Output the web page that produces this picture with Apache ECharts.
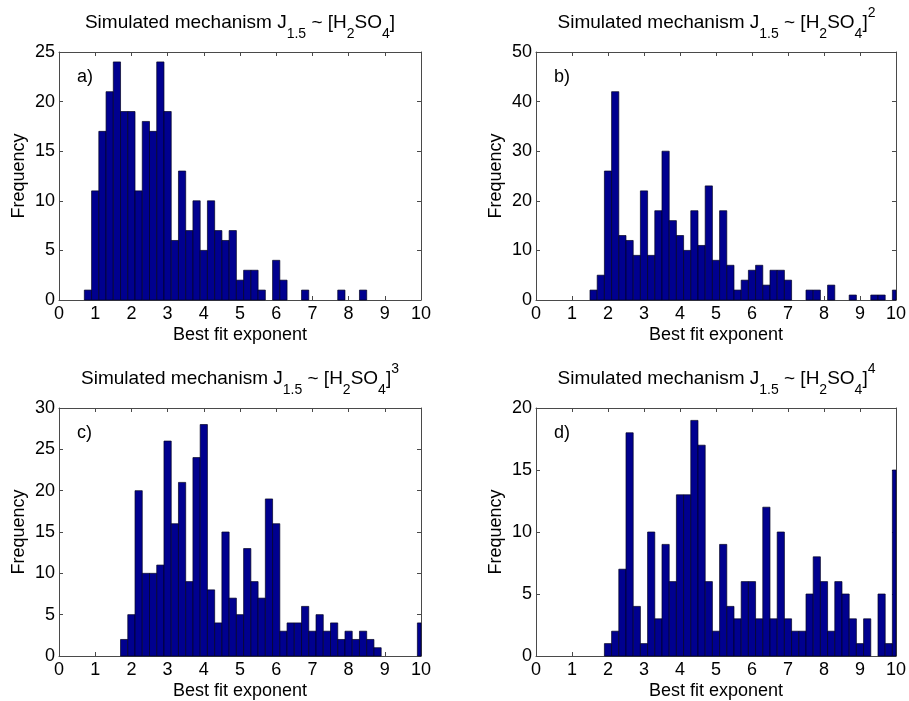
<!DOCTYPE html>
<html><head><meta charset="utf-8">
<script src="https://cdn.jsdelivr.net/npm/echarts@6/dist/echarts.min.js"></script>
<style>html,body{margin:0;padding:0;background:#fff}#c{width:909px;height:701px}</style>
</head><body><div id="c"></div>
<script>
// ---- data ----
const binCenters = [0,0.2,0.4,0.6,0.8,1.0,1.2,1.4,1.6,1.8,2.0,2.2,2.4,2.6,2.8,3.0,3.2,3.4,3.6,3.8,4.0,4.2,4.4,4.6,4.8,5.0,5.2,5.4,5.6,5.8,6.0,6.2,6.4,6.6,6.8,7.0,7.2,7.4,7.6,7.8,8.0,8.2,8.4,8.6,8.8,9.0,9.2,9.4,9.6,9.8,10.0];
const binWidth = 0.2;
const countsA = [0,0,0,0,1,11,17,21,24,19,19,11,18,17,24,19,6,13,7,10,5,10,7,6,7,2,3,3,1,0,4,2,0,0,1,0,0,0,0,1,0,0,1,0,0,0,0,0,0,0,0];
const countsB = [0,0,0,0,0,0,0,0,2,5,26,42,13,12,9,22,9,18,30,16,13,10,18,11,23,8,18,7,2,4,6,7,3,6,6,4,0,0,2,2,0,3,0,0,1,0,0,1,1,0,2];
const countsC = [0,0,0,0,0,0,0,0,0,2,5,20,10,10,11,26,16,21,9,24,28,8,4,15,7,5,13,9,7,19,16,3,4,4,6,3,5,3,4,2,3,2,3,2,1,0,0,0,0,0,4];
const countsD = [0,0,0,0,0,0,0,0,0,0,1,2,7,18,4,1,10,3,9,6,13,13,19,17,6,2,9,4,3,6,6,3,12,3,10,3,2,2,5,8,6,2,6,5,3,1,3,0,5,1,15];
const yMaxes = [25, 50, 30, 20];
const yIntervals = [5, 10, 5, 5];
const xMin = 0, xMax = 10, xInterval = 1;
const panelLabels = ['a)', 'b)', 'c)', 'd)'];
const titleExponents = ['', '2', '3', '4'];
const xAxisTitle = 'Best fit exponent';
const yAxisTitle = 'Frequency';
const labelPos = [0.5, 0.9]; // x value, fraction of y max

// ---- layout / style ----
const FONT = "'Liberation Sans', Arial, sans-serif";
const AXC = '#4a4a4a';
const BAR = '#00008F';
const grids = [
  {left: 59, top: 52, width: 362, height: 248},
  {left: 536, top: 52, width: 361, height: 248},
  {left: 59, top: 408, width: 362, height: 249},
  {left: 536, top: 408, width: 361, height: 249}
];
const allCounts = [countsA, countsB, countsC, countsD];

const chart = echarts.init(document.getElementById('c'), null, {renderer: 'canvas'});
const xAxes = [], yAxes = [], series = [];
grids.forEach((g, i) => {
  const line = {show: true, onZero: false, lineStyle: {color: AXC, width: 1}};
  const tick = {show: true, inside: true, length: 4, lineStyle: {color: AXC, width: 1}};
  xAxes.push({
    type: 'value', gridIndex: i, position: 'bottom', min: xMin, max: xMax, interval: xInterval,
    axisLine: line, axisTick: tick, splitLine: {show: false},
    axisLabel: {fontSize: 18, color: '#000', fontFamily: FONT, margin: 5},
    name: xAxisTitle, nameLocation: 'middle', nameGap: 26,
    nameTextStyle: {fontSize: 18, color: '#000', fontFamily: FONT}
  });
  xAxes.push({
    type: 'value', gridIndex: i, position: 'top', min: xMin, max: xMax, interval: xInterval,
    axisLine: line, axisTick: tick, splitLine: {show: false}, axisLabel: {show: false}
  });
  yAxes.push({
    type: 'value', gridIndex: i, position: 'left', min: 0, max: yMaxes[i], interval: yIntervals[i],
    axisLine: line, axisTick: tick, splitLine: {show: false},
    axisLabel: {fontSize: 18, color: '#000', fontFamily: FONT, margin: 4},
    name: yAxisTitle, nameLocation: 'middle', nameGap: 31, nameRotate: 90,
    nameTextStyle: {fontSize: 18, color: '#000', fontFamily: FONT}
  });
  yAxes.push({
    type: 'value', gridIndex: i, position: 'right', min: 0, max: yMaxes[i], interval: yIntervals[i],
    axisLine: line, axisTick: tick, splitLine: {show: false}, axisLabel: {show: false}
  });
  const data = binCenters.map((c, k) => [c, allCounts[i][k]]).filter(d => d[1] > 0);
  series.push({
    type: 'custom', xAxisIndex: 2 * i, yAxisIndex: 2 * i, data: data,
    encode: {x: 0, y: 1},
    renderItem: function (params, api) {
      const c = api.value(0), n = api.value(1);
      const p0 = api.coord([c - binWidth / 2, 0]);
      const p1 = api.coord([c + binWidth / 2, n]);
      const cs = params.coordSys;
      const x0 = Math.max(p0[0], cs.x), x1 = Math.min(p1[0], cs.x + cs.width);
      if (x1 <= x0) return null;
      return {
        type: 'rect',
        shape: {x: x0, y: p1[1], width: x1 - x0, height: p0[1] - p1[1]},
        style: {fill: BAR, stroke: '#000022', lineWidth: 0.7}
      };
    }
  });
});

chart.setOption({
  animation: false,
  backgroundColor: '#fff',
  grid: grids.map(g => Object.assign({containLabel: false}, g)),
  xAxis: xAxes, yAxis: yAxes, series: series
});

const graphics = [];
grids.forEach((g, i) => {
  let t = '{m|Simulated mechanism J}{s|1.5}{m| ~ [H}{s|2}{m|SO}{s|4}{m|]}';
  if (titleExponents[i]) t += '{p|' + titleExponents[i] + '}';
  graphics.push({
    type: 'text', x: g.left + g.width / 2, y: g.top - 29.5, silent: true,
    style: {
      text: t, align: 'center', verticalAlign: 'middle', fill: '#000',
      fontFamily: FONT, fontSize: 19, lineHeight: 56,
      rich: {
        m: {fontSize: 19, fontFamily: FONT, fill: '#000', lineHeight: 56},
        s: {fontSize: 14, fontFamily: FONT, fill: '#000', lineHeight: 56, padding: [24, 0, 0, 0]},
        p: {fontSize: 14, fontFamily: FONT, fill: '#000', lineHeight: 56, padding: [0, 0, 19, 0]}
      }
    }
  });
  const pt = chart.convertToPixel({gridIndex: i}, [labelPos[0], labelPos[1] * yMaxes[i]]);
  graphics.push({
    type: 'text', x: pt[0], y: pt[1], silent: true,
    style: {text: panelLabels[i], align: 'left', verticalAlign: 'middle', fill: '#000', fontFamily: FONT, fontSize: 18}
  });
});
chart.setOption({graphic: graphics});
</script>
</body></html>
